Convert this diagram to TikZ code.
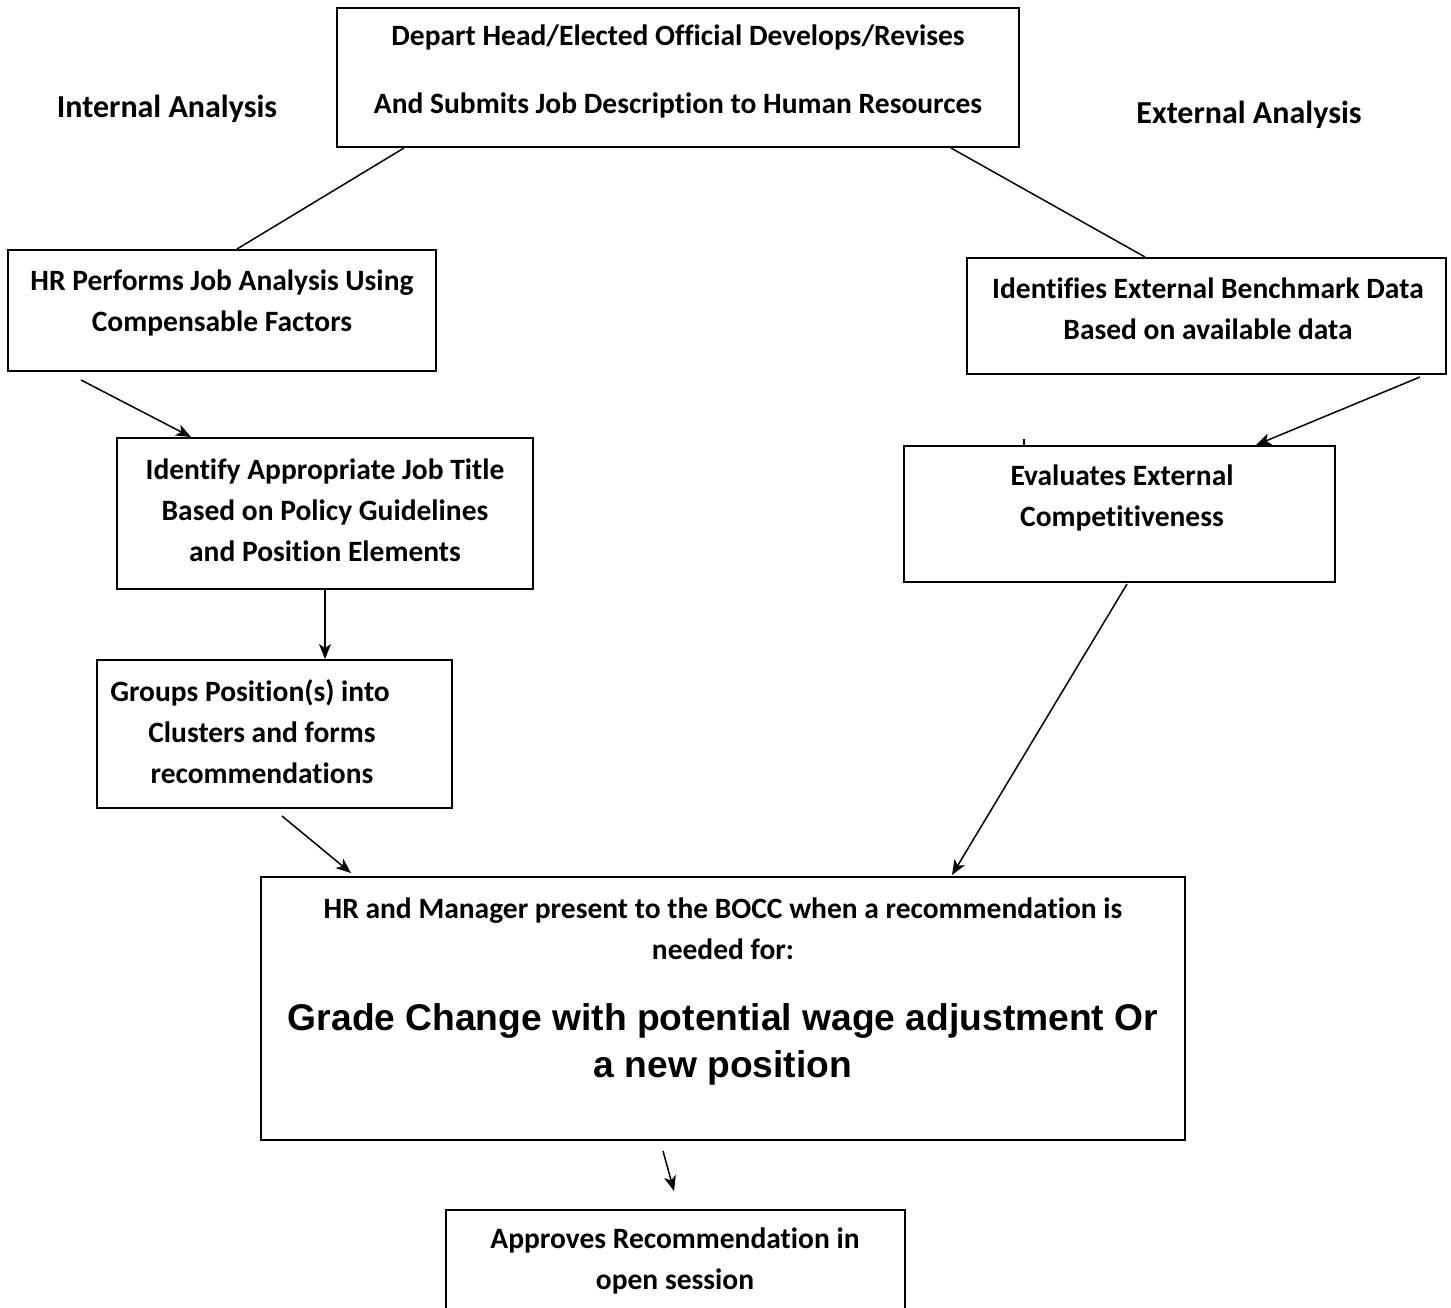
\documentclass[tikz,border=0pt]{standalone}
\usepackage{fontspec}
\setmainfont[Ligatures=CommonOff]{Carlito}
\newfontfamily\arialfont{Liberation Sans}
\usetikzlibrary{arrows.meta,calc}
\begin{document}
\begin{tikzpicture}[x=1pt,y=-1pt,
  box/.style={draw,line width=2pt,inner sep=0pt},
  txt/.style={align=center,font=\bfseries\fontsize{29.5}{41}\selectfont,inner sep=0pt},
  conn/.style={line width=1.5pt},
  arr/.style={line width=1.5pt,-{Stealth[length=15pt,width=12pt,inset=4pt]}}]
\useasboundingbox (0,0) rectangle (1451,1307);
% boxes
\node[box,minimum width=682pt,minimum height=139pt] (top) at (678,77.5) {};
\node[box,minimum width=428pt,minimum height=121pt] (hr) at (222,310.5) {};
\node[box,minimum width=479pt,minimum height=116pt] (ident) at (1206.5,316) {};
\node[box,minimum width=416pt,minimum height=151pt] (title) at (325,513.5) {};
\node[box,minimum width=431pt,minimum height=136pt] (eval) at (1119.5,514) {};
\node[box,minimum width=355pt,minimum height=148pt] (groups) at (274.5,734) {};
\node[box,minimum width=924pt,minimum height=263pt] (big) at (723,1008.5) {};
\node[box,minimum width=459pt,minimum height=110pt] (appr) at (675.5,1265) {};
% texts
\node[txt,font=\bfseries\fontsize{29.5}{68}\selectfont] (ttop) at (678,71) {Depart Head/Elected Official Develops/Revises\\And Submits Job Description to Human Resources};
\node[txt,font=\bfseries\fontsize{32}{41}\selectfont] (lint) at (167,109) {Internal Analysis};
\node[txt,font=\bfseries\fontsize{32}{41}\selectfont] (lext) at (1249,115) {External Analysis};
\node[txt] (thr) at (222,302.5) {HR Performs Job Analysis Using\\Compensable Factors};
\node[txt] (tident) at (1208,309) {Identifies External Benchmark Data\\Based on available data};
\node[txt] (ttitle) at (325,510) {Identify Appropriate Job Title\\Based on Policy Guidelines\\and Position Elements};
\node[txt] (teval) at (1122,498) {Evaluates External\\Competitiveness};
\node[txt] (tgroups) at (262,732) {Groups Position(s) into\hspace*{24pt}\\Clusters and forms\\recommendations};
\node[txt] (tbig) at (723,929) {HR and Manager present to the BOCC when a recommendation is\\needed for:};
\node[align=center,inner sep=0pt,font=\arialfont\bfseries\fontsize{37.2}{47}\selectfont] (tbig2) at (723,1044.5) {Grade Change with potential wage adjustment Or\\a new position};
\node[txt] (tappr) at (675,1260.5) {Approves Recommendation in\\open session};
% connectors
\draw[conn] ($(top.south west)+(68pt,0)$) -- ($(hr.north west)+(230pt,0)$);
\draw[conn] ($(top.south west)+(615pt,0)$) -- ($(ident.north west)+(179pt,0)$);
\draw[arr] ($(hr.south west)+(74pt,-8pt)$) -- ($(title.north west)+(75pt,0)$);
\draw[arr] ($(ident.south west)+(454pt,-2pt)$) -- ($(eval.north west)+(353pt,0)$);
\draw[conn] ($(eval.north west)+(121pt,0)$) -- ++(0,-6);
\draw[arr] (title.south) -- (groups.north -| title.south);
\draw[arr] ($(groups.south west)+(186pt,-7pt)$) -- ($(big.north west)+(91pt,3pt)$);
\draw[arr] ($(eval.south west)+(224pt,-1pt)$) -- ($(big.north west)+(692pt,1pt)$);
\draw[arr] ($(big.south west)+(403pt,-10pt)$) -- ($(appr.north west)+(229pt,18pt)$);
\end{tikzpicture}
\end{document}
